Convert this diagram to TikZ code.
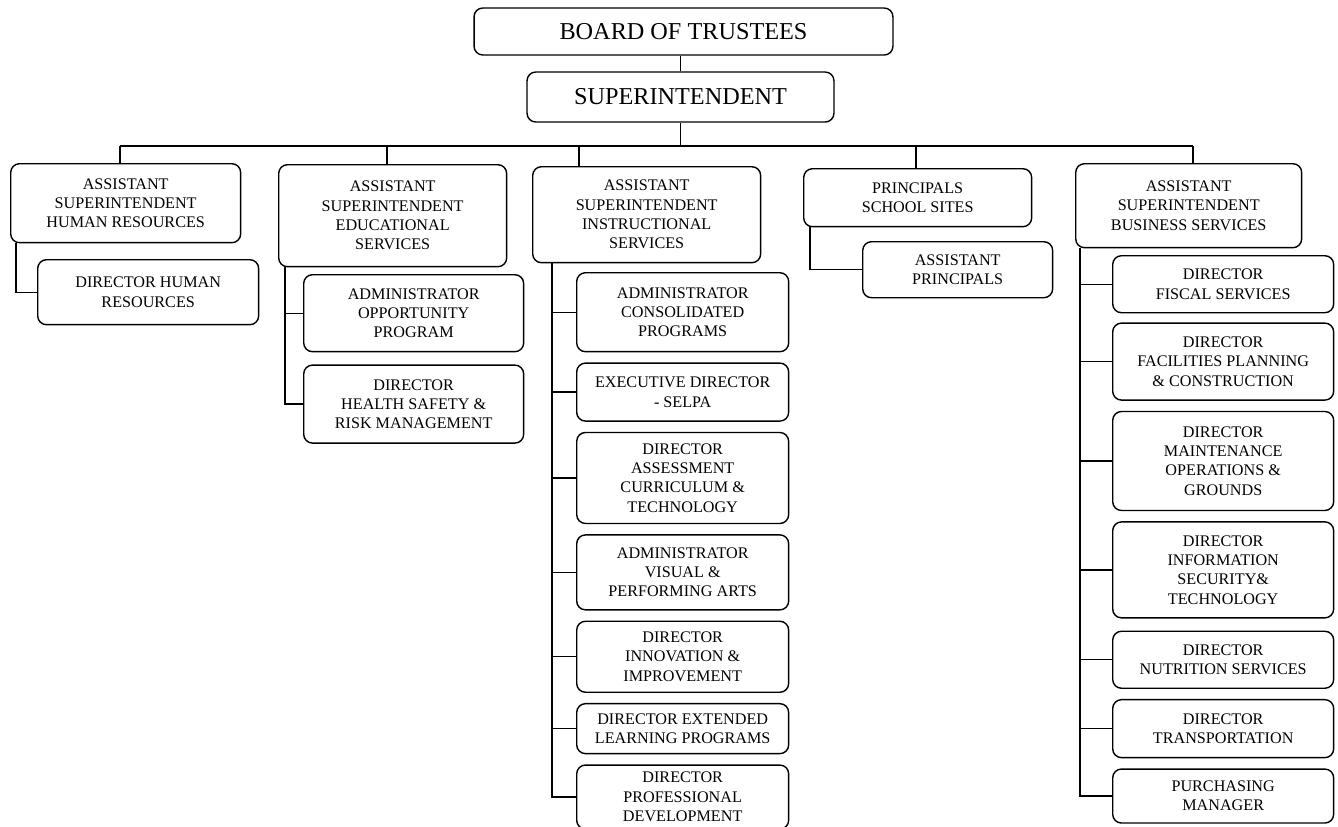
\documentclass[tikz,border=0pt]{standalone}
\usepackage{fontspec}
\setmainfont{Liberation Serif}
\usetikzlibrary{positioning}

\begin{document}
\begin{tikzpicture}[
    x=0.02cm, y=-0.02cm,
    node distance=0.2cm,
    box/.style={rectangle, draw, line width=0.8pt, rounded corners=5pt, align=center, inner sep=2pt, font=\fontsize{9.2}{11}\selectfont},
    bigbox/.style={rectangle, draw, line width=0.8pt, rounded corners=5pt, align=center, font=\fontsize{13.8}{16}\selectfont},
    link/.style={line width=0.8pt}
]
\useasboundingbox (0,0) rectangle (1338,826);

% Top
\node[bigbox, minimum width=8.38cm, minimum height=0.94cm] (board) at (683.5,31.5) {BOARD OF TRUSTEES};
\node[bigbox, minimum width=6.14cm, minimum height=1cm] (super) at (680.5,97) {SUPERINTENDENT};

% Second level
\node[box, anchor=north west, minimum width=4.6cm, minimum height=1.58cm] (hr) at (10,163) {ASSISTANT\\SUPERINTENDENT\\HUMAN RESOURCES};
\node[box, anchor=north west, minimum width=4.56cm, minimum height=2.04cm] (edu) at (278,164) {ASSISTANT\\SUPERINTENDENT\\EDUCATIONAL\\SERVICES};
\node[box, anchor=north west, minimum width=4.56cm, minimum height=1.92cm] (instr) at (532,166) {ASSISTANT\\SUPERINTENDENT\\INSTRUCTIONAL\\SERVICES};
\node[box, anchor=north west, minimum width=4.56cm, minimum height=1.16cm] (sites) at (803,168) {PRINCIPALS\\SCHOOL SITES};
\node[box, anchor=north west, minimum width=4.52cm, minimum height=1.68cm] (busi) at (1075,163) {ASSISTANT\\SUPERINTENDENT\\BUSINESS SERVICES};

% Human resources
\node[box, anchor=north west, minimum width=4.42cm, minimum height=1.3cm] (dirhr) at (37,259) {DIRECTOR HUMAN\\RESOURCES};

% Educational services
\node[box, anchor=north west, minimum width=4.4cm, minimum height=1.54cm] (opp) at (303,274) {ADMINISTRATOR\\OPPORTUNITY\\PROGRAM};
\node[box, below=0.24cm of opp, minimum width=4.4cm, minimum height=1.56cm] (health) {DIRECTOR\\HEALTH SAFETY \&\\RISK MANAGEMENT};

% Instructional services
\node[box, anchor=north west, minimum width=4.24cm, minimum height=1.58cm] (cons) at (576,272) {ADMINISTRATOR\\CONSOLIDATED\\PROGRAMS};
\node[box, below=of cons, minimum width=4.24cm, minimum height=1.16cm] (selpa) {EXECUTIVE DIRECTOR\\- SELPA};
\node[box, below=of selpa, minimum width=4.24cm, minimum height=1.82cm] (assess) {DIRECTOR\\ASSESSMENT\\CURRICULUM \&\\TECHNOLOGY};
\node[box, below=of assess, minimum width=4.24cm, minimum height=1.5cm] (visual) {ADMINISTRATOR\\VISUAL \&\\PERFORMING ARTS};
\node[box, below=of visual, minimum width=4.24cm, minimum height=1.42cm] (innov) {DIRECTOR\\INNOVATION \&\\IMPROVEMENT};
\node[box, below=of innov, minimum width=4.24cm, minimum height=1cm] (extend) {DIRECTOR EXTENDED\\LEARNING PROGRAMS};
\node[box, below=of extend, minimum width=4.24cm, minimum height=1.28cm] (profdev) {DIRECTOR\\PROFESSIONAL\\DEVELOPMENT};

% School sites
\node[box, anchor=north west, minimum width=3.8cm, minimum height=1.12cm] (asstprin) at (862,241) {ASSISTANT\\PRINCIPALS};

% Business services
\node[box, anchor=north west, minimum width=4.42cm, minimum height=1.14cm] (fiscal) at (1112,255) {DIRECTOR\\FISCAL SERVICES};
\node[box, below=0.18cm of fiscal, minimum width=4.42cm, minimum height=1.54cm] (facil) {DIRECTOR\\FACILITIES PLANNING\\\& CONSTRUCTION};
\node[box, below=of facil, minimum width=4.42cm, minimum height=1.98cm] (maint) {DIRECTOR\\MAINTENANCE\\OPERATIONS \&\\GROUNDS};
\node[box, below=of maint, minimum width=4.42cm, minimum height=1.92cm] (infosec) {DIRECTOR\\INFORMATION\\SECURITY\&\\TECHNOLOGY};
\node[box, below=0.24cm of infosec, minimum width=4.42cm, minimum height=1.14cm] (nutri) {DIRECTOR\\NUTRITION SERVICES};
\node[box, below=of nutri, minimum width=4.42cm, minimum height=1.16cm] (transp) {DIRECTOR\\TRANSPORTATION};
\node[box, below=of transp, minimum width=4.42cm, minimum height=1.08cm] (purch) {PURCHASING\\MANAGER};

% Bus
\coordinate (bus1) at (120,146);
\coordinate (bus2) at (387,146);
\coordinate (bus3) at (579,146);
\coordinate (bus4) at (916,146);
\coordinate (bus5) at (1193,146);

% Lines top
\draw[link] (super.north) -- (super.north |- board.south);
\draw[link] (super.south) -- (super.south |- bus1);
\draw[link] (bus1) -- (bus5);
\draw[link] (bus1) -- (bus1 |- hr.north);
\draw[link] (bus2) -- (bus2 |- edu.north);
\draw[link] (bus3) -- (bus3 |- instr.north);
\draw[link] (bus4) -- (bus4 |- sites.north);
\draw[link] (bus5) -- (bus5 |- busi.north);

% Spines
\draw[link] ([xshift=0.12cm]hr.south west) |- (dirhr.west);
\draw[link] ([xshift=0.14cm]edu.south west) |- (health.west);
\draw[link] ([xshift=0.14cm]edu.south west |- opp.west) -- (opp.west);
\draw[link] ([xshift=0.4cm]instr.south west) |- (profdev.west);
\foreach \n in {cons,selpa,assess,visual,innov,extend}
  \draw[link] ([xshift=0.4cm]instr.south west |- \n.west) -- (\n.west);
\draw[link] ([xshift=0.14cm]sites.south west) |- (asstprin.west);
\draw[link] ([xshift=0.1cm]busi.south west) |- (purch.west);
\foreach \n in {fiscal,facil,maint,infosec,nutri,transp}
  \draw[link] ([xshift=0.1cm]busi.south west |- \n.west) -- (\n.west);

\end{tikzpicture}
\end{document}
